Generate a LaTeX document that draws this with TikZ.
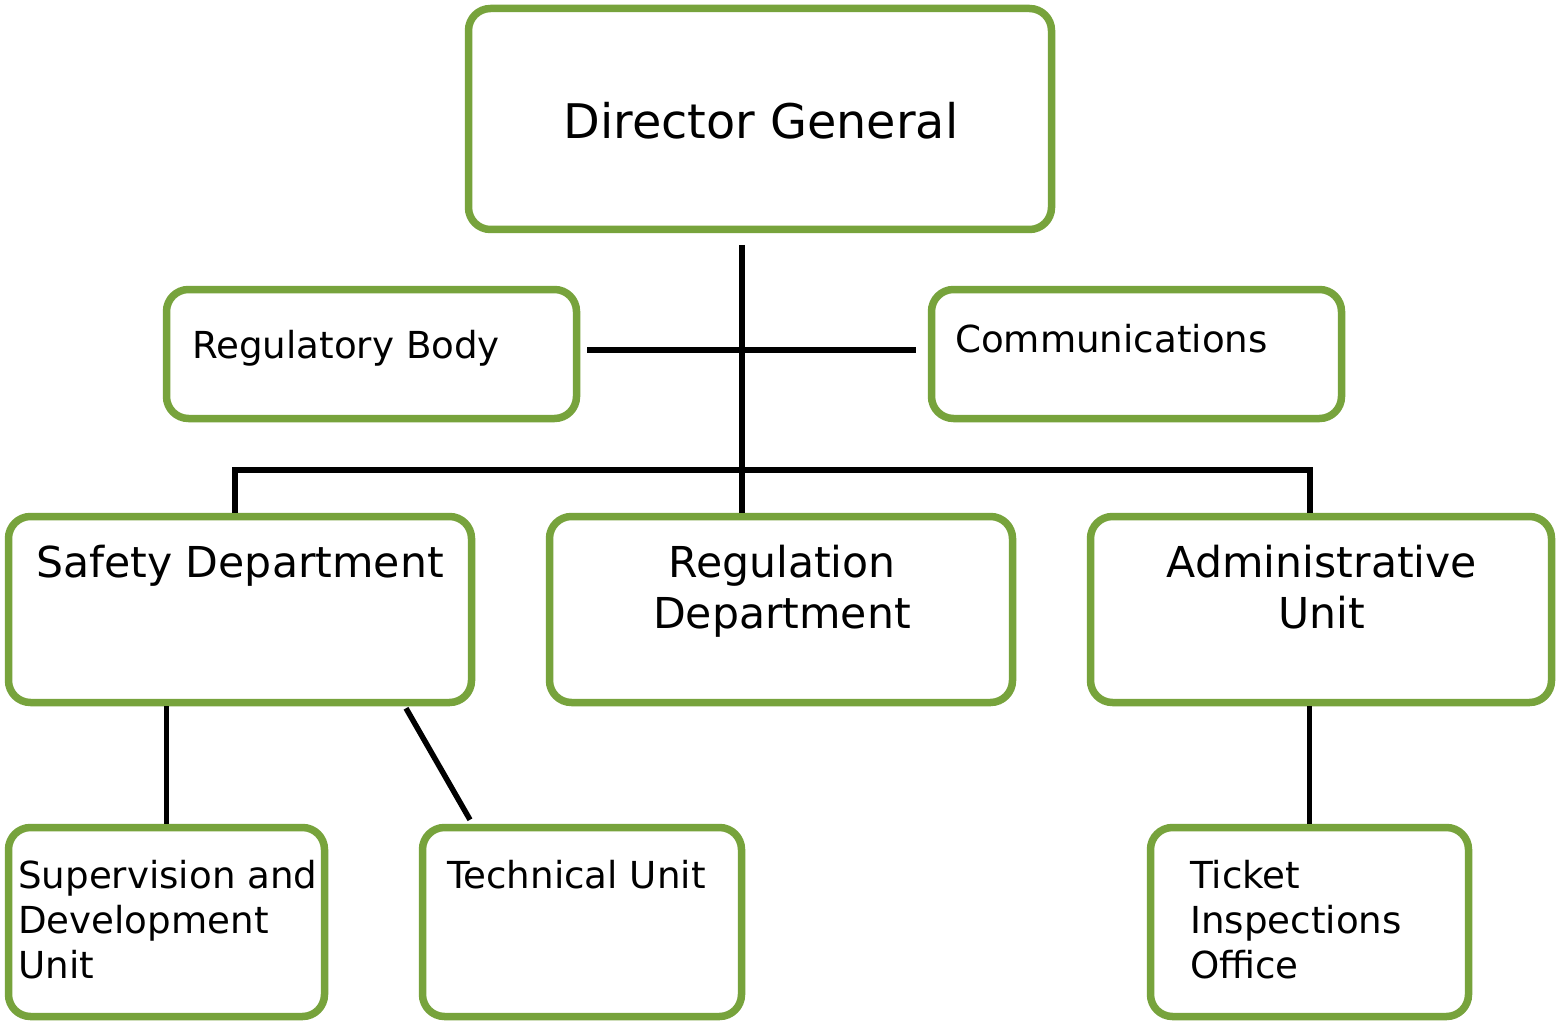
\documentclass[tikz,border=0pt]{standalone}
\usepackage{fontspec}
\setmainfont{DejaVu Sans}
\definecolor{boxgreen}{RGB}{119,163,60}
\newcommand{\stackl}[1]{\begin{tabular}[t]{@{}l@{}}#1\end{tabular}}
\newcommand{\stackc}[1]{\begin{tabular}[t]{@{}c@{}}#1\end{tabular}}
\begin{document}
\begin{tikzpicture}[x=1pt,y=-1pt,
  box/.style={draw=boxgreen, line width=7.5pt, rounded corners=22pt, fill=white, inner sep=0pt},
  link/.style={line width=5.5pt, draw=black},
  huge/.style={font=\fontsize{47.7}{56}\selectfont, inner sep=0pt},
  big/.style={font=\fontsize{42.6}{51}\selectfont, inner sep=0pt},
  small/.style={font=\fontsize{37.2}{45}\selectfont, inner sep=0pt}]
\useasboundingbox[fill=white] (0,0) rectangle (1560,1024);

% organisation boxes
\node[box, minimum width=583pt, minimum height=221pt] (dg) at (760,119) {};
\node[box, minimum width=410pt, minimum height=129pt] (regbody) at (371.5,354) {};
\node[box, minimum width=410pt, minimum height=129pt] (comm) at (1136.5,354) {};
\node[box, minimum width=463pt, minimum height=186pt] (safety) at (240,609.5) {};
\node[box, minimum width=463pt, minimum height=186pt] (regdept) at (781,609.5) {};
\node[box, minimum width=461pt, minimum height=186pt] (admin) at (1321,609.5) {};
\node[box, minimum width=316pt, minimum height=189pt] (superv) at (166.5,922) {};
\node[box, minimum width=319pt, minimum height=189pt] (tech) at (582,922) {};
\node[box, minimum width=318pt, minimum height=189pt] (ticket) at (1309.5,922) {};

% box labels
\node[huge, anchor=base] (dgtext) at (761,139) {Director General};
\node[small, anchor=base west] (regbodytext) at (192,358) {Regulatory Body};
\node[small, anchor=base west] (commtext) at (955,352) {Communications};
\node[big, anchor=base west] (safetytext) at (36,577) {Safety Department};
\node[big, anchor=base] (regdepttext) at (782,577) {\stackc{Regulation\\Department}};
\node[big, anchor=base] (admintext) at (1322,577) {\stackc{Administrative\\Unit}};
\node[small, anchor=base west] (supervtext) at (18,888) {\stackl{Supervision and\\Development\\Unit}};
\node[small, anchor=base west] (techtext) at (447,888) {Technical Unit};
\node[small, anchor=base west] (tickettext) at (1190,888) {\stackl{Ticket\\Inspections\\Office}};

% reporting lines
\coordinate (trunktop) at (742,245);
\draw[link] (trunktop) -- (trunktop |- regdept.north);
\draw[link] ([xshift=7pt,yshift=4pt]regbody.east) -- ([xshift=-12pt,yshift=4pt]comm.west);
\draw[link] ([xshift=-5pt]safety.north) -- ++(0,-43) -| ([xshift=-11pt]admin.north);
\draw[link] (superv.north) -- (superv.north |- safety.south);
\draw[link] ([xshift=-112pt,yshift=4pt]tech.north) -- ([xshift=166pt,yshift=-2pt]safety.south);
\draw[link] (ticket.north) -- (ticket.north |- admin.south);
\end{tikzpicture}
\end{document}
